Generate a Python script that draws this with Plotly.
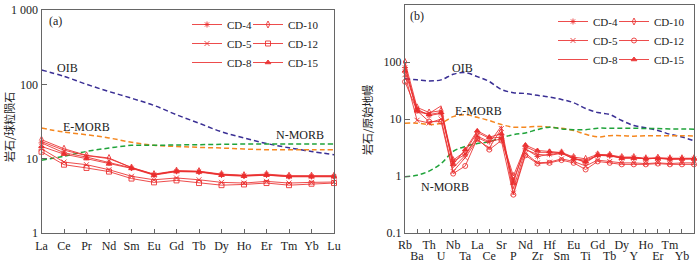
import plotly.graph_objects as go

W, H = 700, 264

# ---------------- data ----------------
ree = ['La', 'Ce', 'Pr', 'Nd', 'Sm', 'Eu', 'Gd', 'Tb', 'Dy', 'Ho', 'Er', 'Tm', 'Yb', 'Lu']
spider = ['Rb', 'Ba', 'Th', 'U', 'Nb', 'Ta', 'La', 'Ce', 'Sr', 'P', 'Nd', 'Zr', 'Hf',
          'Sm', 'Eu', 'Ti', 'Gd', 'Tb', 'Dy', 'Y', 'Ho', 'Er', 'Tm', 'Yb', 'Lu']

samples = ['CD-4', 'CD-5', 'CD-8', 'CD-10', 'CD-12', 'CD-15']

# chondrite-normalised REE (panel a)
ree_CD4 = [16.3, 12.0, 10.5, 8.8, 7.5, 6.1, 6.8, 6.7, 6.1, 5.9, 6.1, 5.8, 5.8, 5.8]
ree_CD5 = [13.6, 9.0, 8.3, 7.1, 5.8, 5.2, 5.5, 5.2, 4.8, 4.7, 4.95, 4.7, 4.8, 4.85]
ree_CD8 = [17.0, 13.0, 11.0, 10.0, 7.6, 6.1, 6.8, 6.7, 6.1, 5.9, 6.0, 5.8, 5.8, 5.8]
ree_CD10 = [18.0, 13.6, 11.1, 10.2, 7.6, 6.2, 6.9, 6.8, 6.2, 6.0, 6.2, 5.9, 5.9, 5.9]
ree_CD12 = [12.4, 8.3, 7.5, 6.7, 5.4, 4.8, 5.1, 4.7, 4.4, 4.5, 4.7, 4.4, 4.6, 4.7]
ree_CD15 = [14.6, 11.5, 10.0, 8.5, 7.4, 6.0, 6.7, 6.6, 6.0, 5.8, 6.0, 5.7, 5.7, 5.7]

ree_OIB = [156, 128, 100, 80, 65, 52, 39, 30, 23, 19, 16, 14, 12.5, 11.3]
ree_EMORB = [25.8, 22.8, 21.0, 19.0, 16.6, 15.1, 14.6, 14.2, 13.9, 13.5, 13.2, 13.2, 13.2, 13.2]
ree_NMORB = [9.5, 10.8, 12.5, 13.9, 15.1, 15.1, 15.3, 15.4, 15.6, 15.7, 15.7, 15.7, 15.7, 15.7]

# primitive-mantle-normalised trace elements (panel b)
sp_CD4 = [80, 15, 11.5, 12.5, 1.8, 2.4, 5.0, 4.0, 4.5, 0.85, 3.0, 2.2, 2.4, 2.55, 2.1, 1.7,
          2.35, 2.3, 2.1, 2.1, 2.0, 2.05, 2.0, 2.0, 2.0]
sp_CD5 = [60, 9.5, 8.5, 10, 1.2, 2.1, 4.3, 3.1, 6.8, 0.5, 2.5, 1.7, 1.75, 2.0, 1.8, 1.5,
          1.9, 1.8, 1.7, 1.7, 1.65, 1.7, 1.65, 1.7, 1.7]
sp_CD8 = [90, 13, 12.5, 17, 1.4, 2.3, 4.7, 3.8, 7.5, 0.6, 2.9, 2.4, 2.3, 2.5, 2.0, 1.9,
          2.3, 2.25, 2.05, 2.1, 2.0, 2.05, 1.95, 2.0, 2.0]
sp_CD10 = [100, 16, 13, 14, 1.9, 2.7, 5.8, 4.6, 4.8, 1.0, 3.3, 2.6, 2.6, 2.6, 2.15, 2.0,
           2.4, 2.35, 2.15, 2.15, 2.05, 2.1, 2.05, 2.05, 2.05]
sp_CD12 = [45, 14, 9, 9, 1.1, 1.5, 4.5, 2.9, 4.2, 0.47, 2.3, 1.65, 1.7, 1.9, 1.7, 1.3,
           1.8, 1.7, 1.6, 1.6, 1.6, 1.65, 1.6, 1.6, 1.6]
sp_CD15 = [70, 14, 12, 13, 1.6, 2.9, 6.2, 4.8, 5.5, 0.75, 3.5, 2.8, 2.7, 2.55, 2.0, 1.8,
           2.3, 2.3, 2.05, 2.05, 2.0, 2.0, 2.0, 2.0, 2.0]

sp_OIB = [50.6, 48.6, 46.6, 48.6, 61, 65, 55.5, 45.5, 33, 29, 28, 26, 24.2, 22, 19.3, 15.3,
          13, 12, 9.4, 7.7, 7.0, 6.3, 5.4, 4.85, 4.15]
sp_EMORB = [8.45, 8.45, 8.0, 8.45, 11.0, 11.9, 10.7, 9.4, 8.0, 7.2, 7.2, 7.4, 7.2, 6.9, 6.3, 5.4,
            4.85, 5.1, 5.1, 5.0, 5.1, 5.1, 5.1, 5.1, 5.0]
sp_NMORB = [0.97, 1.03, 1.22, 1.65, 2.7, 3.3, 3.7, 4.0, 4.7, 5.3, 5.7, 6.5, 7.2, 6.7, 6.5, 6.5,
            6.9, 6.9, 6.9, 6.9, 6.8, 6.8, 6.7, 6.7, 6.6]

ree_rows = [ree_CD4, ree_CD5, ree_CD8, ree_CD10, ree_CD12, ree_CD15]
sp_rows = [sp_CD4, sp_CD5, sp_CD8, sp_CD10, sp_CD12, sp_CD15]

# ---------------- styling ----------------
RED = 'rgba(234,45,45,0.85)'
sym_a = {'CD-4': 'asterisk-open', 'CD-5': 'x-thin-open', 'CD-8': None,
         'CD-10': 'diamond-tall-open', 'CD-12': 'square-open', 'CD-15': 'triangle-up'}
sym_b = {'CD-4': 'asterisk-open', 'CD-5': 'x-thin-open', 'CD-8': None,
         'CD-10': 'diamond-tall-open', 'CD-12': 'circle-open', 'CD-15': 'triangle-up'}
col_of = {'CD-4': 0, 'CD-5': 0, 'CD-8': 0, 'CD-10': 1, 'CD-12': 1, 'CD-15': 1}

SERIF = 'Liberation Serif, Times New Roman, serif'
CJK = 'Noto Sans CJK SC, sans-serif'
FRAME = '#666666'
TXT = '#222222'
FS = 12

def X(p):
    return p / W

def Y(p):
    return 1 - p / H

fig = go.Figure()

ref_styles = [('OIB', '#3a2f94'), ('E-MORB', '#f5871f'), ('N-MORB', '#1fa33a')]

def add_panel(cats, rows, refs, xa, ya, syms, legs):
    xs = list(range(len(cats)))
    for (name, color), vals in zip(ref_styles, refs):
        fig.add_trace(go.Scatter(
            x=xs, y=vals, mode='lines', xaxis=xa, yaxis=ya, showlegend=False,
            line=dict(color=color, width=1.5, dash='5px,3px', shape='spline', smoothing=1),
            hoverinfo='skip'))
    for name, vals in zip(samples, rows):
        s = syms[name]
        fig.add_trace(go.Scatter(
            x=xs, y=vals, name=name, xaxis=xa, yaxis=ya,
            mode='lines' if s is None else 'lines+markers',
            line=dict(color=RED, width=1),
            marker=dict(symbol=s if s else 'circle', size=5, color=RED,
                        line=dict(color=RED, width=1)),
            legend=legs[col_of[name]], cliponaxis=False))

add_panel(ree, ree_rows, [ree_OIB, ree_EMORB, ree_NMORB], 'x', 'y', sym_a, ['legend', 'legend2'])
add_panel(spider, sp_rows, [sp_OIB, sp_EMORB, sp_NMORB], 'x2', 'y2', sym_b, ['legend3', 'legend4'])

# ---------------- axes ----------------
axis_common = dict(showline=True, linecolor=FRAME, linewidth=1, mirror=True,
                   showgrid=False, zeroline=False, ticks='inside', tickcolor=FRAME,
                   tickfont=dict(family=SERIF, size=FS, color=TXT), automargin=False)

idx_b = list(range(len(spider)))
bot_vals = [i for i in idx_b if i % 2 == 1]
top_text = [spider[i] if i % 2 == 0 else '' for i in idx_b]
bot_text = [spider[i] for i in bot_vals]

fig.update_layout(
    width=W, height=H, margin=dict(l=0, r=0, t=0, b=0),
    paper_bgcolor='white', plot_bgcolor='white',
    xaxis=dict(domain=[X(41.5), X(334)], range=[0, 13], tickvals=list(range(len(ree))),
               ticktext=ree, ticklen=4, ticklabelstandoff=2, tickangle=0, anchor='y',
               **axis_common),
    yaxis=dict(domain=[Y(233), Y(10)], type='log', range=[0, 3],
               tickvals=[1, 10, 100, 1000], ticktext=['1', '10', '100', '1 000'],
               ticklen=5, anchor='x', **axis_common),
    xaxis2=dict(domain=[X(405), X(694)], range=[0, 24], tickvals=idx_b,
                ticktext=top_text, ticklen=4, ticklabelstandoff=1, tickangle=0, anchor='y2',
                **axis_common),
    xaxis3=dict(domain=[X(405), X(694)], range=[0, 24], tickvals=bot_vals,
                ticktext=bot_text, ticks='', showline=False, showgrid=False, zeroline=False,
                ticklabelstandoff=14, tickangle=0, anchor='y2', overlaying='x2', side='bottom',
                tickfont=dict(family=SERIF, size=FS, color=TXT), automargin=False),
    yaxis2=dict(domain=[Y(233), Y(5)], type='log', range=[-1, 3],
                tickvals=[0.1, 1, 10, 100, 1000], ticktext=['0.1', '1', '10', '100', '1 000'],
                ticklen=5, anchor='x2', **axis_common),
)

# invisible carrier so that xaxis3 is drawn
fig.add_trace(go.Scatter(x=[0, 24], y=[None, None], xaxis='x3', yaxis='y2',
                         showlegend=False, hoverinfo='skip', mode='lines'))

leg_common = dict(font=dict(family=SERIF, size=11, color=TXT), bgcolor='rgba(0,0,0,0)',
                  xanchor='left', yanchor='top', itemwidth=30, tracegroupgap=0,
                  orientation='v', itemclick=False)
fig.update_layout(
    legend=dict(x=X(187), y=Y(10), **leg_common),
    legend2=dict(x=X(248), y=Y(10), **leg_common),
    legend3=dict(x=X(553), y=Y(7), **leg_common),
    legend4=dict(x=X(614), y=Y(7), **leg_common),
)

# ---------------- annotations ----------------
def ann(text, x, y, font=SERIF, size=FS, angle=0):
    fig.add_annotation(text=text, x=X(x), y=Y(y), xref='paper', yref='paper',
                       xanchor='center', yanchor='middle',
                       showarrow=False, textangle=angle,
                       font=dict(family=font, size=size, color=TXT))

ann('(a)', 55, 21)
ann('(b)', 417, 16)
ann('OIB', 67, 68)
ann('E-MORB', 86, 127)
ann('N-MORB', 300, 135)
ann('OIB', 462, 68)
ann('E-MORB', 478, 111)
ann('N-MORB', 445, 187)
ann('岩石/球粒陨石', 9, 127, font=CJK, size=11, angle=-90)
ann('岩石/原始地幔', 367, 120, font=CJK, size=11, angle=-90)

# remove the browser's default 8px body margin so the 700x264 figure fills the window
fig.write_html('out.html', config={'displayModeBar': False},
               post_script="document.body.style.margin='0';")
